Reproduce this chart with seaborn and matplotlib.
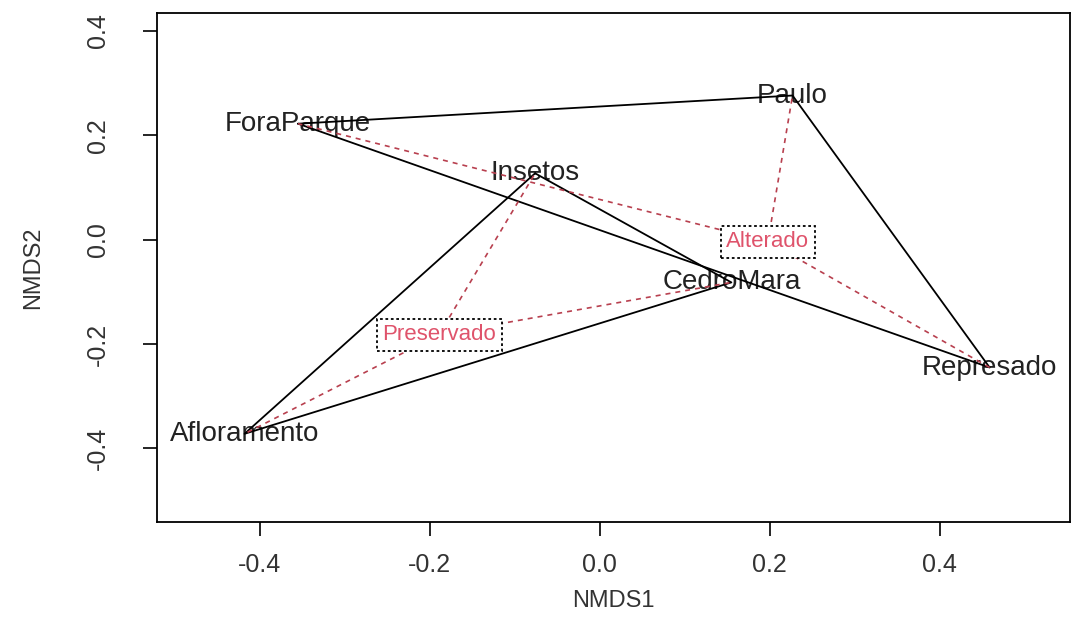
import pandas as pd
import seaborn as sns
import matplotlib.pyplot as plt

# NMDS site scores
sites = ["ForaParque", "Paulo", "Insetos", "CedroMara", "Represado", "Afloramento"]
nmds1 = [-0.355, 0.227, -0.076, 0.155, 0.459, -0.418]
nmds2 = [0.222, 0.276, 0.127, -0.082, -0.245, -0.372]
groups = ["Alterado", "Alterado", "Preservado", "Preservado", "Alterado", "Preservado"]

# spider centres (where the group labels sit)
centre_names = ["Alterado", "Preservado"]
centre_x = [0.198, -0.189]
centre_y = [-0.004, -0.182]

xticks = [-0.4, -0.2, 0.0, 0.2, 0.4]
yticks = [-0.4, -0.2, 0.0, 0.2, 0.4]

df = pd.DataFrame({"site": sites, "NMDS1": nmds1, "NMDS2": nmds2, "group": groups})

sns.set_style("white")
plt.rcParams["font.family"] = ["Liberation Sans", "DejaVu Sans"]

fig = plt.figure(figsize=(10.71, 6.2), dpi=100)
ax = fig.add_axes([0.1466, 0.158, 0.852, 0.821])

# site names (ordiplot type = "t")
for _, r in df.iterrows():
    ax.text(r["NMDS1"], r["NMDS2"], r["site"], ha="center", va="center",
            fontsize=20, color="#222222", zorder=2)

# convex hulls per group (all triangles here)
hull_rows = []
for g in centre_names:
    sub = df[df["group"] == g]
    pts = list(zip(sub["NMDS1"], sub["NMDS2"]))
    pts.append(pts[0])
    for i, (x, y) in enumerate(pts):
        hull_rows.append({"g": g, "i": i, "x": x, "y": y})
hull = pd.DataFrame(hull_rows)
sns.lineplot(data=hull, x="x", y="y", units="g", estimator=None, sort=False,
             color="black", linewidth=1.3, ax=ax, zorder=3)

# spider segments from group centre to each site
seg_rows = []
for k, r in df.iterrows():
    c = centre_names.index(r["group"])
    seg_rows.append({"s": k, "x": centre_x[c], "y": centre_y[c]})
    seg_rows.append({"s": k, "x": r["NMDS1"], "y": r["NMDS2"]})
seg = pd.DataFrame(seg_rows)
sns.lineplot(data=seg, x="x", y="y", units="s", estimator=None, sort=False,
             color="#B8404F", linewidth=1.2, linestyle=(0, (3, 3)), ax=ax, zorder=3)

# group labels with dotted boxes
for name, cx, cy in zip(centre_names, centre_x, centre_y):
    ax.text(cx, cy, name, ha="center", va="center", fontsize=16, color="#DF536B",
            zorder=5,
            bbox=dict(boxstyle="square,pad=0.25", facecolor="white",
                      edgecolor="black", linestyle=(0, (1.5, 1.5)), linewidth=1.3))

ax.set_xlim(-0.521, 0.553)
ax.set_ylim(-0.541, 0.434)
ax.set_xticks(xticks)
ax.set_yticks(yticks)
ax.set_xticklabels([f"{v:.1f}" for v in xticks])
ax.set_yticklabels([f"{v:.1f}" for v in yticks], rotation=90, va="center")
ax.tick_params(axis="both", direction="out", length=10, width=1.2, color="black",
               labelsize=18, labelcolor="#333333", left=True, bottom=True)
ax.tick_params(axis="x", pad=12)
ax.tick_params(axis="y", pad=24)
for sp in ax.spines.values():
    sp.set_color("black")
    sp.set_linewidth(1.3)

ax.set_xlabel("NMDS1", fontsize=17, color="#333333", labelpad=10)
ax.set_ylabel("NMDS2", fontsize=17, color="#333333", labelpad=30)

fig.savefig("out.png", dpi=100)
